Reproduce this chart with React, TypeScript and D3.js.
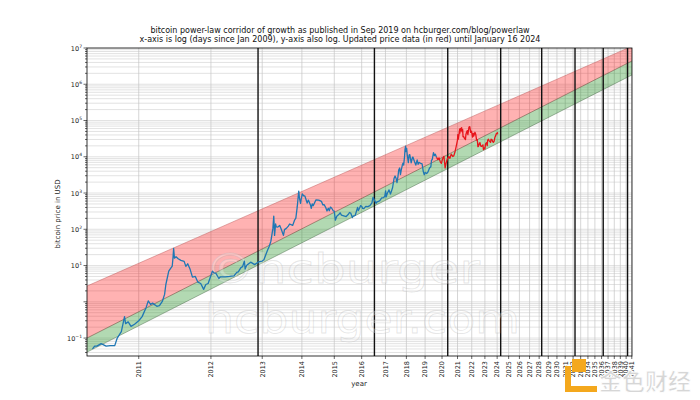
import * as d3 from 'd3';

// bitcoin price history (blue) and the later update (red)
const historyDates = [
  '2010-07-18', '2010-07-25', '2010-08-01', '2010-08-15', '2010-09-01', '2010-09-15', '2010-10-01', '2010-10-10',
  '2010-10-25', '2010-11-06', '2010-11-10', '2010-11-20', '2010-12-01', '2010-12-15', '2011-01-01', '2011-01-15',
  '2011-02-01', '2011-02-10', '2011-02-20', '2011-03-01', '2011-03-20', '2011-04-01', '2011-04-15', '2011-04-25',
  '2011-05-01', '2011-05-15', '2011-05-25', '2011-06-01', '2011-06-05', '2011-06-08', '2011-06-12', '2011-06-20',
  '2011-07-01', '2011-07-15', '2011-08-01', '2011-08-10', '2011-08-20', '2011-09-01', '2011-09-15', '2011-10-01',
  '2011-10-15', '2011-11-01', '2011-11-18', '2011-12-01', '2011-12-15', '2012-01-01', '2012-01-10', '2012-01-20',
  '2012-02-01', '2012-02-20', '2012-03-01', '2012-04-01', '2012-05-01', '2012-06-01', '2012-06-20', '2012-07-01',
  '2012-07-20', '2012-08-01', '2012-08-15', '2012-08-20', '2012-09-01', '2012-10-01', '2012-11-01', '2012-12-01',
  '2013-01-01', '2013-01-15', '2013-02-01', '2013-02-15', '2013-03-01', '2013-03-15', '2013-04-01', '2013-04-09',
  '2013-04-16', '2013-04-25', '2013-05-01', '2013-05-15', '2013-06-01', '2013-06-15', '2013-07-05', '2013-07-15',
  '2013-08-01', '2013-08-20', '2013-09-01', '2013-10-01', '2013-10-20', '2013-11-01', '2013-11-15', '2013-11-30',
  '2013-12-07', '2013-12-18', '2013-12-25', '2014-01-05', '2014-01-20', '2014-02-01', '2014-02-25', '2014-03-10',
  '2014-04-01', '2014-04-10', '2014-04-20', '2014-05-01', '2014-06-01', '2014-07-01', '2014-08-01', '2014-08-18',
  '2014-09-01', '2014-09-20', '2014-10-05', '2014-10-20', '2014-11-01', '2014-11-15', '2014-12-01', '2014-12-20',
  '2015-01-01', '2015-01-14', '2015-02-01', '2015-03-01', '2015-03-15', '2015-04-01', '2015-05-01', '2015-06-01',
  '2015-07-01', '2015-07-15', '2015-08-01', '2015-08-24', '2015-09-01', '2015-10-01', '2015-11-04', '2015-11-15',
  '2015-12-01', '2015-12-15', '2016-01-01', '2016-01-15', '2016-02-01', '2016-03-01', '2016-04-01', '2016-05-01',
  '2016-06-01', '2016-06-17', '2016-07-01', '2016-08-02', '2016-08-15', '2016-09-01', '2016-10-01', '2016-11-01',
  '2016-12-01', '2016-12-20', '2017-01-04', '2017-01-12', '2017-02-01', '2017-03-01', '2017-03-25', '2017-04-15',
  '2017-05-01', '2017-05-25', '2017-06-12', '2017-07-01', '2017-07-16', '2017-08-01', '2017-08-15', '2017-09-01',
  '2017-09-15', '2017-10-01', '2017-10-20', '2017-11-01', '2017-11-12', '2017-11-28', '2017-12-07', '2017-12-17',
  '2017-12-22', '2018-01-06', '2018-01-17', '2018-02-06', '2018-02-20', '2018-03-05', '2018-04-01', '2018-04-25',
  '2018-05-05', '2018-06-01', '2018-06-29', '2018-07-25', '2018-08-14', '2018-09-01', '2018-10-01', '2018-11-01',
  '2018-11-25', '2018-12-15', '2019-01-01', '2019-02-01', '2019-03-01', '2019-04-03', '2019-05-01', '2019-05-15',
  '2019-06-01', '2019-06-26', '2019-07-15', '2019-08-06', '2019-09-01',
];
const historyPrices = [
  0.05, 0.06, 0.06, 0.07, 0.06, 0.062, 0.062, 0.1,
  0.15, 0.39, 0.25, 0.28, 0.21, 0.24, 0.3, 0.39,
  0.7, 1.06, 0.85, 0.92, 0.75, 0.78, 1.05, 1.6,
  3.0, 7.0, 8.5, 9.6, 17, 29.6, 16, 17.5,
  15.4, 13.9, 13.0, 9.5, 11.2, 8.2, 4.8, 5.0,
  3.5, 3.2, 2.2, 3.0, 3.2, 5.3, 7.0, 6.3,
  6.1, 4.4, 4.9, 4.9, 5.0, 5.2, 6.5, 6.7,
  8.8, 9.3, 13.3, 8.0, 10.2, 12.4, 10.6, 12.6,
  13.3, 14.4, 20.4, 27, 34, 47, 104, 230,
  68, 140, 116, 115, 128, 100, 68, 98,
  106, 122, 140, 128, 180, 204, 420, 1130,
  740, 520, 680, 950, 830, 830, 530, 640,
  470, 380, 500, 450, 650, 640, 590, 470,
  480, 400, 320, 380, 325, 410, 380, 320,
  315, 178, 230, 260, 285, 245, 235, 225,
  260, 290, 280, 210, 230, 240, 400, 330,
  380, 450, 430, 375, 370, 430, 420, 450,
  535, 760, 680, 520, 570, 575, 615, 730,
  750, 800, 1150, 780, 990, 1220, 940, 1180,
  1420, 2500, 2950, 2500, 1930, 2800, 4300, 4900,
  3200, 4400, 6000, 6700, 5900, 10000, 16000, 19500,
  13800, 17100, 11200, 6900, 11200, 11500, 6800, 9600,
  9800, 7500, 5900, 8200, 6200, 7000, 6600, 6400,
  3900, 3200, 3700, 3450, 3800, 4900, 5300, 8000,
  8500, 13000, 10800, 11800, 9600,
];

const updateDates = [
  '2019-09-01', '2019-10-01', '2019-10-26', '2019-11-25', '2019-12-17', '2020-01-14', '2020-02-13', '2020-03-12',
  '2020-04-01', '2020-04-30', '2020-06-01', '2020-07-01', '2020-08-01', '2020-09-05', '2020-10-01', '2020-11-01',
  '2020-12-01', '2020-12-31', '2021-01-08', '2021-01-22', '2021-02-10', '2021-02-21', '2021-02-28', '2021-03-13',
  '2021-03-25', '2021-04-14', '2021-04-25', '2021-05-10', '2021-05-19', '2021-06-01', '2021-06-22', '2021-07-20',
  '2021-08-01', '2021-08-22', '2021-09-06', '2021-09-21', '2021-10-20', '2021-11-10', '2021-12-04', '2021-12-27',
  '2022-01-22', '2022-02-10', '2022-02-24', '2022-03-29', '2022-04-20', '2022-05-12', '2022-06-01', '2022-06-18',
  '2022-07-01', '2022-07-30', '2022-08-14', '2022-09-01', '2022-10-01', '2022-11-05', '2022-11-21', '2022-12-15',
  '2023-01-01', '2023-01-20', '2023-02-16', '2023-03-10', '2023-03-20', '2023-04-14', '2023-05-01', '2023-06-15',
  '2023-07-01', '2023-08-01', '2023-08-18', '2023-09-11', '2023-10-01', '2023-10-24', '2023-11-15', '2023-12-08',
  '2024-01-03', '2024-01-11', '2024-01-16',
];
const updatePrices = [
  9600, 8300, 9300, 7100, 6600, 8800, 10300, 4900,
  6600, 8700, 10200, 9100, 11800, 10200, 10600, 13800,
  19700, 29000, 40800, 30800, 44800, 57500, 45000, 61000,
  52000, 63500, 49000, 56000, 36000, 36500, 32500, 29800,
  41000, 49000, 52500, 40700, 66000, 67500, 47000, 50600,
  35000, 44000, 37000, 47400, 41400, 28900, 29800, 19000,
  19300, 23800, 24400, 20000, 19300, 21300, 15800, 17400,
  16600, 22700, 24500, 20200, 28200, 30500, 28000, 25100,
  30500, 29200, 26000, 25100, 27000, 34500, 37800, 44200,
  42800, 46600, 43100,
];

// corridor lines, read at the left and right edge of the plot (days since genesis)
const corridorDays = [544, 11700];
const upperLine = [2.72, 1.12e7];
const middleLine = [0.1, 4.4e6];
const lowerLine = [0.041, 1.81e6];

const halvingDates = ['2012-11-28', '2016-07-09', '2020-05-11', '2024-04-20', '2028-04-10', '2032-04-01', '2036-04-01', '2040-04-01'];
const tickYears = d3.range(2011, 2042);
const yDecades = [-1, 1, 2, 3, 4, 5, 6, 7];

const genesis = Date.parse('2009-01-03');
const toDay = (s: string) => (Date.parse(s) - genesis) / 864e5;

const L = 87, R = 632, T = 48, B = 356;
const x = d3.scaleLog().domain([544, 11700]).range([L, R]);
const y = d3.scaleLog().domain([0.032, 1e7]).range([B, T]);

export default function App() {
  const band = (lo: number[], hi: number[]) =>
    d3.area<number>()
      .x((_, i) => x(corridorDays[i]))
      .y0((_, i) => y(lo[i]))
      .y1((_, i) => y(hi[i]))([0, 1]) as string;
  const seg = (vals: number[]) =>
    d3.line<number>().x((_, i) => x(corridorDays[i])).y((v) => y(v))(vals) as string;
  const priceLine = d3.line<[number, number]>().x((d) => x(d[0])).y((d) => y(d[1]));
  const blue = historyDates.map((d, i) => [toDay(d), historyPrices[i]] as [number, number]);
  const red = updateDates.map((d, i) => [toDay(d), updatePrices[i]] as [number, number]);

  const minorY: number[] = [];
  for (let e = -2; e <= 6; e++) {
    for (let m = 1; m <= 9; m++) {
      const v = m * Math.pow(10, e);
      if (v >= 0.032 && v <= 1e7) minorY.push(v);
    }
  }
  minorY.push(1e7);

  const font = 'DejaVu Sans, sans-serif';

  return (
    <svg width={700} height={400} style={{ position: 'absolute', left: 0, top: 0, background: '#fff' }} fontFamily={font}>
      <defs>
        <clipPath id="plot">
          <rect x={L} y={T} width={R - L} height={B - T} />
        </clipPath>
      </defs>
      <text x={340} y={33} fontSize={8} textAnchor="middle" fill="#111">
        bitcoin power-law corridor of growth as published in Sep 2019 on hcburger.com/blog/powerlaw
      </text>
      <text x={340} y={41.5} fontSize={8} textAnchor="middle" fill="#111">
        x-axis is log (days since Jan 2009), y-axis also log. Updated price data (in red) until January 16 2024
      </text>

      <g clipPath="url(#plot)">
        {minorY.map((v, i) => (
          <line key={'h' + i} x1={L} x2={R} y1={y(v)} y2={y(v)} stroke="#cfcfcf" strokeWidth={0.6} />
        ))}
        {tickYears.map((yr) => {
          const px = x(toDay(`${yr}-01-01`));
          return <line key={'v' + yr} x1={px} x2={px} y1={T} y2={B} stroke="#c4c4c4" strokeWidth={0.7} />;
        })}
        <path d={band(middleLine, upperLine)} fill="#ff0000" fillOpacity={0.3} />
        <path d={band(lowerLine, middleLine)} fill="#008000" fillOpacity={0.3} />
        <path d={seg(upperLine)} fill="none" stroke="#c06060" strokeWidth={0.5} />
        <path d={seg(middleLine)} fill="none" stroke="#705040" strokeWidth={0.6} />
        <path d={seg(lowerLine)} fill="none" stroke="#507050" strokeWidth={0.5} />
        {halvingDates.map((h) => {
          const px = x(toDay(h));
          return <line key={h} x1={px} x2={px} y1={T} y2={B} stroke="#111" strokeWidth={1.4} />;
        })}
        <g fontFamily="DejaVu Sans, sans-serif" fontSize={40}>
          <text x={205} y={283} textLength={275} lengthAdjust="spacingAndGlyphs" fill="#fff" fillOpacity={0.3} stroke="#aaa" strokeOpacity={0.3} strokeWidth={0.8}>©hcburger</text>
          <text x={205} y={333} textLength={315} lengthAdjust="spacingAndGlyphs" fill="#fff" fillOpacity={0.3} stroke="#aaa" strokeOpacity={0.3} strokeWidth={0.8}>hcburger.com</text>
        </g>
        <path d={priceLine(blue) as string} fill="none" stroke="#1f77b4" strokeWidth={1.3} strokeLinejoin="round" />
        <path d={priceLine(red) as string} fill="none" stroke="#e8141b" strokeWidth={1.3} strokeLinejoin="round" />
      </g>
      <rect x={L} y={T} width={R - L} height={B - T} fill="none" stroke="#000" strokeWidth={0.8} />

      {minorY.map((v, i) => {
        const major = Math.abs(Math.log10(v) - Math.round(Math.log10(v))) < 1e-9;
        return <line key={'yt' + i} x1={L} x2={L - (major ? 3.5 : 2)} y1={y(v)} y2={y(v)} stroke="#000" strokeWidth={0.6} />;
      })}
      {yDecades.map((e) => (
        <text key={'yl' + e} x={L - 5} y={y(Math.pow(10, e)) + 2.5} fontSize={6.5} textAnchor="end" fill="#222">
          10<tspan dy={-3} fontSize={4.5}>{e < 0 ? '\u2212' + Math.abs(e) : e}</tspan>
        </text>
      ))}
      <text transform={`translate(60,${(T + B) / 2 + 12}) rotate(-90)`} fontSize={7} textAnchor="middle" fill="#222">
        bitcoin price in USD
      </text>

      {tickYears.map((yr) => {
        const px = x(toDay(`${yr}-01-01`));
        return (
          <g key={'xt' + yr}>
            <line x1={px} x2={px} y1={B} y2={B + 3} stroke="#000" strokeWidth={0.6} />
            <text transform={`translate(${px + 2.3},${B + 5}) rotate(-90)`} fontSize={6.5} textAnchor="end" fill="#222">
              {yr}
            </text>
          </g>
        );
      })}
      <text x={359} y={386} fontSize={7} textAnchor="middle" fill="#222">year</text>

      <g>
        <rect x={572} y={359} width={14} height={13} fill="#f4a81d" />
        <rect x={565} y={366} width={6} height={26} fill="#f4a81d" />
        <rect x={565} y={386} width={32} height={6} fill="#f4a81d" />
        <text x={599} y={390} fontSize={23} fontWeight="bold" fontFamily="Noto Sans CJK SC, sans-serif" fill="#d6d6d6" stroke="#fff" strokeWidth={0.8}>
          金色财经
        </text>
      </g>
    </svg>
  );
}
